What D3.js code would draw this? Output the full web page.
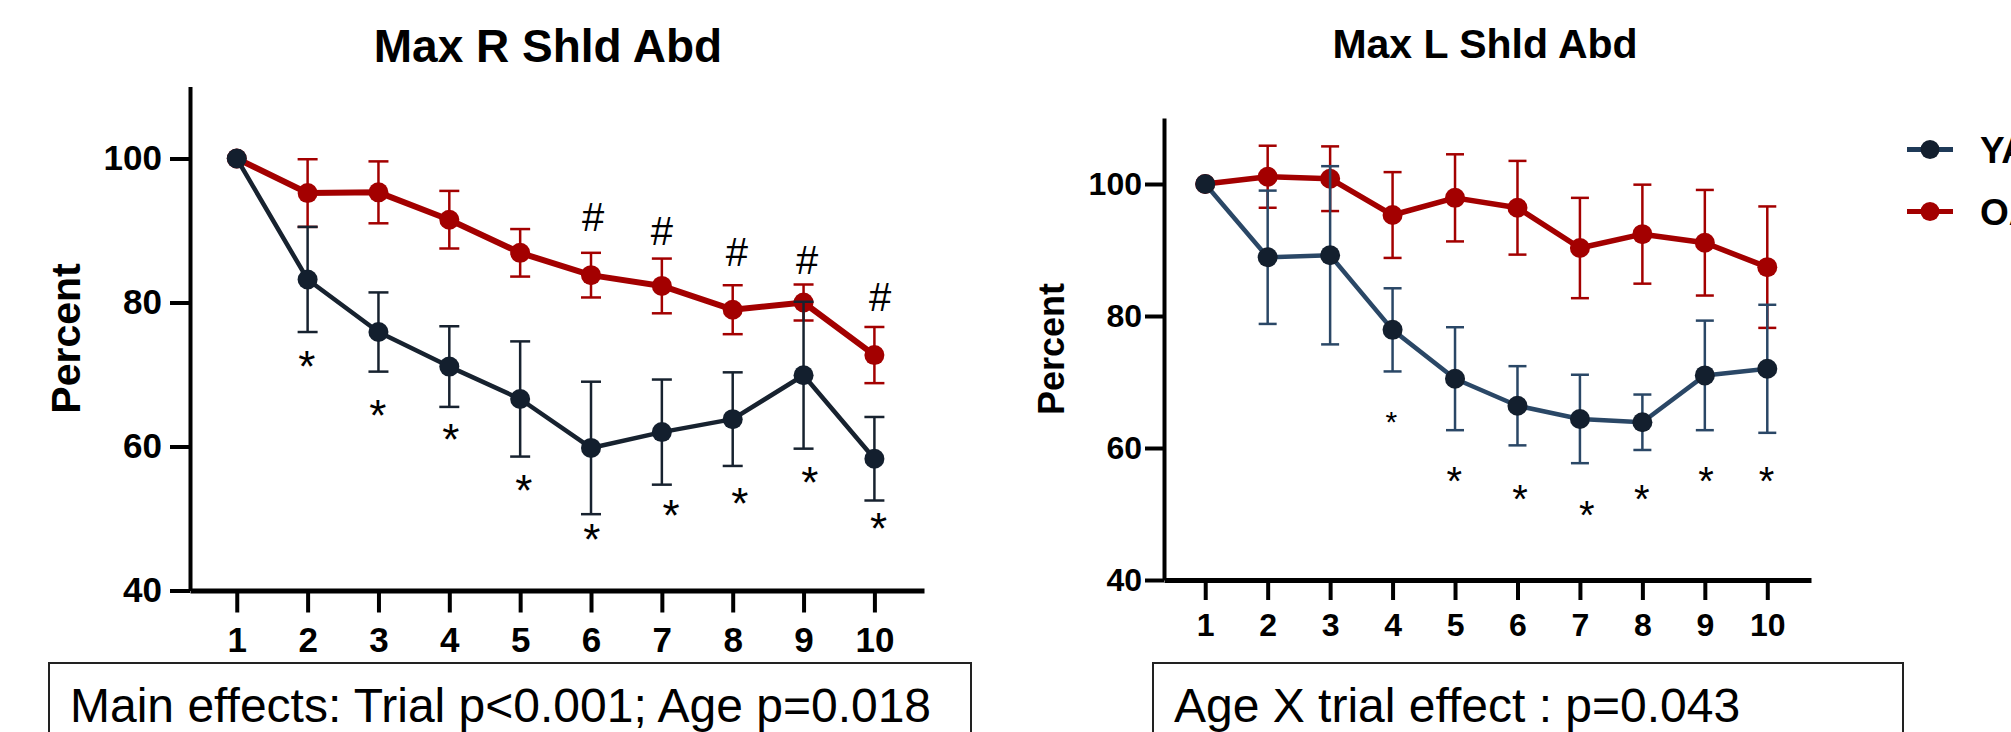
<!DOCTYPE html>
<html>
<head>
<meta charset="utf-8">
<script src="https://cdn.jsdelivr.net/npm/d3@7"></script>
<style>
  body { margin: 0; background: #fff; }
  svg { display: block; font-family: "Liberation Sans", Arial, sans-serif; }
</style>
</head>
<body>
<svg id="chart" width="2011" height="732"></svg>
<script>
// --- Data ---
const trials = [1, 2, 3, 4, 5, 6, 7, 8, 9, 10];
const yTicks = [40, 60, 80, 100];
const groups = ["YA", "OA"];

// Max R Shld Abd (mean, error)
const yaR = [100, 83.2, 75.9, 71.1, 66.6, 59.8, 62.0, 63.8, 69.9, 58.3];
const yaRerr = [0, 7.3, 5.5, 5.6, 8.0, 9.2, 7.3, 6.5, 10.2, 5.8];
const oaR = [100, 95.2, 95.3, 91.5, 86.9, 83.8, 82.3, 79.0, 80.0, 72.7];
const oaRerr = [0, 4.7, 4.3, 4.0, 3.3, 3.1, 3.8, 3.4, 2.5, 3.9];

// Max L Shld Abd (mean, error)
const yaL = [100, 88.9, 89.2, 77.9, 70.5, 66.4, 64.4, 63.9, 71.0, 72.0];
const yaLerr = [0, 10.1, 13.5, 6.3, 7.8, 6.0, 6.7, 4.2, 8.3, 9.7];
const oaL = [100, 101.1, 100.8, 95.3, 97.9, 96.4, 90.3, 92.4, 91.1, 87.4];
const oaLerr = [0, 4.7, 4.9, 6.5, 6.6, 7.1, 7.6, 7.5, 8.0, 9.2];

// significance marks: x in trial units, y in percent
const starXR = [1.99, 2.99, 4.02, 5.05, 6.01, 7.13, 8.10, 9.09, 10.06];
const starYR = [72.4, 65.6, 62.2, 55.2, 48.3, 51.7, 53.4, 56.3, 49.8];
const hashXR = [6.03, 7.0, 8.06, 9.05, 10.08];
const hashYR = [91.9, 89.9, 87.0, 85.9, 80.8];
const starXL = [3.98, 4.99, 6.04, 7.11, 7.99, 9.02, 9.99];
const starYL = [64.9, 56.2, 53.6, 51.1, 53.6, 56.2, 56.2];

const colors = {
  YA: { line: ["#17222f", "#2a4766"], mark: "#131f2e", legend: "#1f3a58" },
  OA: { line: ["#a30000", "#a30000"], mark: "#a30000", legend: "#a30000" }
};

const svg = d3.select("#chart");
svg.append("rect").attr("width", 2011).attr("height", 732).attr("fill", "#fff");

function drawPanel(p, idx) {
  const x = d3.scaleLinear().domain([0.34, 10.7]).range([p.left, p.right]);
  const y = d3.scaleLinear().domain([40, 110]).range([p.bottom, p.top]);
  const g = svg.append("g");

  // title
  g.append("text")
    .attr("x", p.titleX).attr("y", p.titleY)
    .attr("text-anchor", "middle")
    .attr("font-weight", "bold")
    .attr("font-size", p.titleSize)
    .text(p.title);

  // y label
  g.append("text")
    .attr("transform", `translate(${p.labelX},${(p.top + p.bottom) / 2}) rotate(-90)`)
    .attr("text-anchor", "middle")
    .attr("font-weight", "bold")
    .attr("font-size", p.labelSize)
    .text("Percent");

  // axes
  const xAxis = d3.axisBottom(x).tickValues(trials).tickSize(p.xTick)
    .tickSizeOuter(0).tickPadding(p.xPad).tickFormat(d3.format("d"));
  const yAxis = d3.axisLeft(y).tickValues(yTicks).tickSize(p.yTick)
    .tickSizeOuter(0).tickPadding(p.yPad);

  const gx = g.append("g").attr("transform", `translate(0,${p.bottom})`).call(xAxis);
  gx.select(".domain").attr("stroke", "#000").attr("stroke-width", 5);
  gx.selectAll(".tick line").attr("stroke", "#000").attr("stroke-width", 4);
  gx.selectAll(".tick text").attr("fill", "#000").attr("font-size", p.tickSize)
    .attr("font-weight", "bold").attr("font-family", "Liberation Sans, Arial, sans-serif");

  const gy = g.append("g").attr("transform", `translate(${p.left},0)`).call(yAxis);
  gy.select(".domain").attr("stroke", "#000").attr("stroke-width", 4);
  gy.selectAll(".tick line").attr("stroke", "#000").attr("stroke-width", 4);
  gy.selectAll(".tick text").attr("fill", "#000").attr("font-size", p.yTickSize)
    .attr("font-weight", "bold").attr("font-family", "Liberation Sans, Arial, sans-serif");

  // series: OA first so YA sits on top
  const line = d3.line().x(d => x(d.t)).y(d => y(d.v));
  ["OA", "YA"].forEach(grp => {
    const s = p.series[grp];
    const pts = trials.map((t, i) => ({ t, v: s.mean[i], e: s.err[i] }));
    const c = colors[grp];
    const sg = g.append("g");

    sg.append("path").datum(pts)
      .attr("d", line)
      .attr("fill", "none")
      .attr("stroke", c.line[idx])
      .attr("stroke-width", grp === "OA" ? p.lineOA : p.lineYA)
      .attr("stroke-linejoin", "round");

    const eb = sg.selectAll(".err").data(pts.filter(d => d.e > 0)).enter().append("g")
      .attr("stroke", c.line[idx]).attr("stroke-width", 2.5);
    eb.append("line")
      .attr("x1", d => x(d.t)).attr("x2", d => x(d.t))
      .attr("y1", d => y(d.v - d.e)).attr("y2", d => y(d.v + d.e));
    eb.append("line")
      .attr("x1", d => x(d.t) - p.cap).attr("x2", d => x(d.t) + p.cap)
      .attr("y1", d => y(d.v + d.e)).attr("y2", d => y(d.v + d.e));
    eb.append("line")
      .attr("x1", d => x(d.t) - p.cap).attr("x2", d => x(d.t) + p.cap)
      .attr("y1", d => y(d.v - d.e)).attr("y2", d => y(d.v - d.e));

    sg.selectAll("circle").data(pts).enter().append("circle")
      .attr("cx", d => x(d.t)).attr("cy", d => y(d.v))
      .attr("r", p.r).attr("fill", c.mark);
  });

  // stars (first star of the right panel is printed smaller)
  const starFs = d => idx === 1 && d.x < 4.5 ? 30 : p.starSize;
  g.selectAll(".star").data(p.stars.x.map((v, i) => ({ x: v, y: p.stars.y[i] })))
    .enter().append("text")
    .attr("x", d => x(d.x))
    .attr("y", d => y(d.y) + 0.557 * starFs(d))
    .attr("text-anchor", "middle")
    .attr("font-size", starFs)
    .text("*");

  if (p.hashes) {
    g.selectAll(".hash").data(p.hashes.x.map((v, i) => ({ x: v, y: p.hashes.y[i] })))
      .enter().append("text")
      .attr("x", d => x(d.x))
      .attr("y", d => y(d.y) + 0.35 * p.hashSize)
      .attr("text-anchor", "middle")
      .attr("font-size", p.hashSize)
      .text("#");
  }

  // stats box
  g.append("rect")
    .attr("x", p.box[0]).attr("y", 663)
    .attr("width", p.box[1] - p.box[0]).attr("height", 120)
    .attr("fill", "none").attr("stroke", "#222").attr("stroke-width", 2);
  g.append("text")
    .attr("x", p.box[0] + 21).attr("y", 722)
    .attr("font-size", 48)
    .text(p.note);
}

drawPanel({
  title: "Max R Shld Abd", titleX: 548, titleY: 62, titleSize: 46,
  left: 190, right: 924, top: 86.5, bottom: 590.5,
  labelX: 80, labelSize: 41,
  xTick: 22, xPad: 15, yTick: 20, yPad: 8, tickSize: 35, yTickSize: 35,
  lineOA: 6, lineYA: 4.5, r: 10, cap: 10,
  series: { YA: { mean: yaR, err: yaRerr }, OA: { mean: oaR, err: oaRerr } },
  stars: { x: starXR, y: starYR }, starSize: 44,
  hashes: { x: hashXR, y: hashYR }, hashSize: 40,
  box: [49, 971], note: "Main effects: Trial p<0.001; Age p=0.018"
}, 0);

drawPanel({
  title: "Max L Shld Abd", titleX: 1485, titleY: 58, titleSize: 41,
  left: 1164, right: 1811, top: 118, bottom: 580,
  labelX: 1064, labelSize: 36,
  xTick: 20, xPad: 13, yTick: 19, yPad: 3, tickSize: 32, yTickSize: 32,
  lineOA: 5.5, lineYA: 4.5, r: 10, cap: 9,
  series: { YA: { mean: yaL, err: yaLerr }, OA: { mean: oaL, err: oaLerr } },
  stars: { x: starXL, y: starYL }, starSize: 40,
  hashes: null,
  box: [1153, 1903], note: "Age X trial effect : p=0.043"
}, 1);

// legend (runs past the right edge, as in the source figure)
const lg = svg.append("g");
groups.forEach((grp, i) => {
  const ly = 149.5 + i * 62;
  lg.append("line")
    .attr("x1", 1907).attr("x2", 1953).attr("y1", ly).attr("y2", ly)
    .attr("stroke", colors[grp].legend).attr("stroke-width", 5);
  lg.append("circle").attr("cx", 1930).attr("cy", ly).attr("r", 9.5)
    .attr("fill", colors[grp].mark);
  lg.append("text").attr("x", 1980).attr("y", ly + 13)
    .attr("font-size", 37).attr("font-weight", "bold")
    .text(grp);
});
</script>
</body>
</html>
